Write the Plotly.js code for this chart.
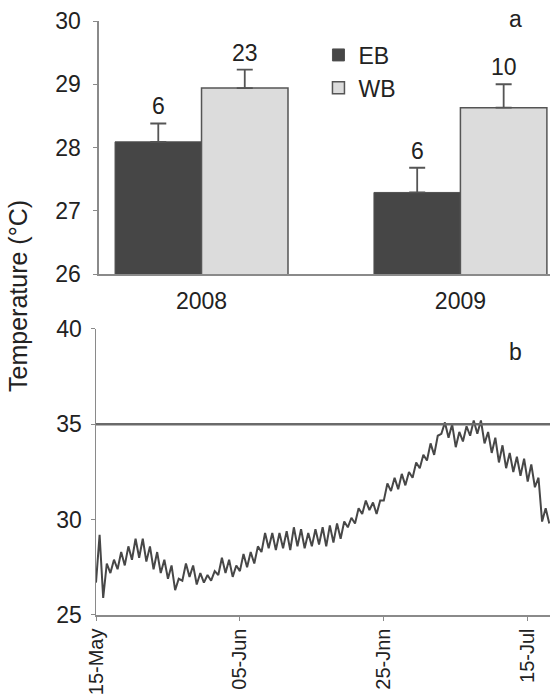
<!DOCTYPE html>
<html>
<head>
<meta charset="utf-8">
<script src="https://cdn.plot.ly/plotly-3.0.1.min.js"></script>
<style>html,body{margin:0;padding:0;background:#fff}#chart{width:550px;height:699px}</style>
</head>
<body>
<div id="chart"></div>
<script>
// ---- Panel a: bar data ----
const years = ['2008', '2009'];
const ebMean = [28.09, 27.29];
const ebErr = [0.29, 0.39];
const wbMean = [28.94, 28.63];
const wbErr = [0.29, 0.37];
const ebN = ['6', '6'];
const wbN = ['23', '10'];

// ---- Panel b: daily minimum / maximum temperature ----
const dayTicks = [0, 20, 40, 60];
const dayTickLabels = ['15-May', '05-Jun', '25-Jnn', '15-Jul'];
const threshold = 35;
const tMin = [26.7, 25.9, 27.2, 27.4, 27.6, 27.9, 28.0, 27.8, 27.4, 27.2,
              26.9, 26.3, 26.8, 27.0, 26.6, 26.7, 26.8, 27.1, 27.2, 27.0,
              27.3, 27.5, 27.7, 28.3, 28.5, 28.4, 28.5, 28.4, 28.6, 28.5,
              28.6, 28.7, 28.6, 28.8, 29.0, 29.6, 29.8, 30.3, 30.5, 30.3,
              31.0, 31.5, 31.6, 31.8, 32.2, 32.7, 33.1, 33.4, 34.5, 34.3,
              33.8, 34.1, 34.4, 34.5, 34.0, 33.5, 33.0, 32.7, 32.5, 32.3,
              32.0, 31.7, 29.9, 29.8];
const tMax = [29.2, 27.7, 27.9, 28.3, 28.6, 29.0, 29.0, 28.6, 28.3, 27.9,
              27.6, 26.9, 27.7, 27.6, 27.2, 27.1, 27.3, 28.0, 27.9, 27.6,
              28.2, 28.3, 28.6, 29.3, 29.3, 29.3, 29.4, 29.6, 29.5, 29.3,
              29.5, 29.6, 29.7, 29.8, 29.9, 30.1, 30.6, 31.0, 30.9, 31.0,
              31.9, 32.2, 32.4, 32.5, 33.0, 33.4, 34.0, 34.4, 35.1, 35.0,
              34.6, 34.9, 35.2, 35.2, 34.6, 34.3, 33.9, 33.5, 33.3, 33.2,
              32.9, 32.2, 30.6];

const lineX = [], lineY = [];
for (let d = 0; d < tMin.length; d++) {
  lineX.push(d); lineY.push(tMin[d]);
  if (d < tMax.length) { lineX.push(d + 0.5); lineY.push(tMax[d]); }
}

const FONT = 'Liberation Sans, Arial, Helvetica, sans-serif';
const TXT = '#222';
const AX = '#8a8a8a';
const bargap = 0.332;
const half = (1 - bargap) / 4;

const traces = [
  {type: 'bar', name: 'EB', x: [0, 1], y: ebMean, xaxis: 'x', yaxis: 'y',
   legendgroup: 'eb',
   marker: {color: '#464646', line: {color: '#505050', width: 1}},
   error_y: {type: 'data', symmetric: false, array: ebErr, arrayminus: [0, 0],
             color: '#555', thickness: 1.8, width: 8},
   hoverinfo: 'skip'},
  {type: 'bar', name: 'WB', x: [0, 1], y: wbMean, xaxis: 'x', yaxis: 'y',
   legendgroup: 'wb',
   marker: {color: '#dcdcdc', line: {color: '#555', width: 1.5}},
   error_y: {type: 'data', symmetric: false, array: wbErr, arrayminus: [0, 0],
             color: '#555', thickness: 1.8, width: 8},
   hoverinfo: 'skip'},
  {type: 'scatter', mode: 'lines', x: lineX, y: lineY, xaxis: 'x2', yaxis: 'y2',
   showlegend: false, line: {color: '#474747', width: 2}, hoverinfo: 'skip'}
];

const annotations = [];
years.forEach((yr, i) => {
  annotations.push({xref: 'x', yref: 'y', x: i - half, y: ebMean[i] + ebErr[i],
    text: ebN[i], showarrow: false, yanchor: 'bottom', yshift: 2,
    font: {family: FONT, size: 23, color: TXT}});
  annotations.push({xref: 'x', yref: 'y', x: i + half, y: wbMean[i] + wbErr[i],
    text: wbN[i], showarrow: false, yanchor: 'bottom', yshift: 2,
    font: {family: FONT, size: 23, color: TXT}});
});
annotations.push({xref: 'paper', yref: 'paper', x: 0.925, y: 1.004, text: 'a',
  showarrow: false, xanchor: 'center', yanchor: 'middle',
  font: {family: FONT, size: 23, color: TXT}});
annotations.push({xref: 'paper', yref: 'paper', x: 0.923, y: 0.443, text: 'b',
  showarrow: false, xanchor: 'center', yanchor: 'middle',
  font: {family: FONT, size: 23, color: TXT}});
annotations.push({xref: 'paper', yref: 'paper', x: -0.172, y: 0.537,
  text: 'Temperature (°C)', textangle: -90, showarrow: false,
  xanchor: 'center', yanchor: 'middle',
  font: {family: FONT, size: 25, color: TXT}});

const layout = {
  width: 550, height: 699,
  margin: {l: 96, r: 0, t: 21, b: 84},
  paper_bgcolor: '#fff', plot_bgcolor: 'rgba(0,0,0,0)',
  font: {family: FONT, size: 22, color: TXT},
  barmode: 'group', bargap: bargap, bargroupgap: 0,
  showlegend: true,
  legend: {x: 0.49, y: 0.979, xanchor: 'left', yanchor: 'top',
           bgcolor: 'rgba(0,0,0,0)', font: {family: FONT, size: 23, color: TXT},
           tracegroupgap: 10, traceorder: 'normal'},
  xaxis: {domain: [0.0066, 1], range: [-0.396, 1.346], tickvals: [0, 1], ticktext: years,
          showline: true, linecolor: AX, linewidth: 1.5, ticks: '', showgrid: false,
          zeroline: false, fixedrange: true, ticklabelstandoff: 6,
          tickfont: {family: FONT, size: 23, color: TXT}},
  yaxis: {domain: [0.574, 1], range: [26, 30], dtick: 1, showline: true,
          linecolor: AX, linewidth: 1.5, ticks: 'outside', ticklen: 4, tickcolor: AX,
          showgrid: false, zeroline: false, ticklabelstandoff: 8,
          tickfont: {family: FONT, size: 23, color: TXT}},
  xaxis2: {domain: [0, 1], anchor: 'y2', range: [0, 63.1], tickvals: dayTicks,
           ticktext: dayTickLabels, tickangle: -90, showline: true, linecolor: AX,
           linewidth: 1.5, ticks: 'outside', ticklen: 4, tickcolor: AX,
           showgrid: false, zeroline: false, ticklabelstandoff: 0,
           tickfont: {family: FONT, size: 20, color: TXT}},
  yaxis2: {domain: [0, 0.4815], anchor: 'x2', range: [25, 40], dtick: 5,
           showline: true, linecolor: AX, linewidth: 1.5, ticks: 'outside', ticklen: 4,
           tickcolor: AX, showgrid: false, zeroline: false, ticklabelstandoff: 4,
           tickfont: {family: FONT, size: 23, color: TXT}},
  shapes: [{type: 'line', xref: 'x2 domain', yref: 'y2', x0: 0, x1: 1,
            y0: threshold, y1: threshold, line: {color: '#6a6a6a', width: 2.5}}],
  annotations: annotations
};

Plotly.newPlot('chart', traces, layout, {displayModeBar: false, staticPlot: true});
</script>
</body>
</html>
